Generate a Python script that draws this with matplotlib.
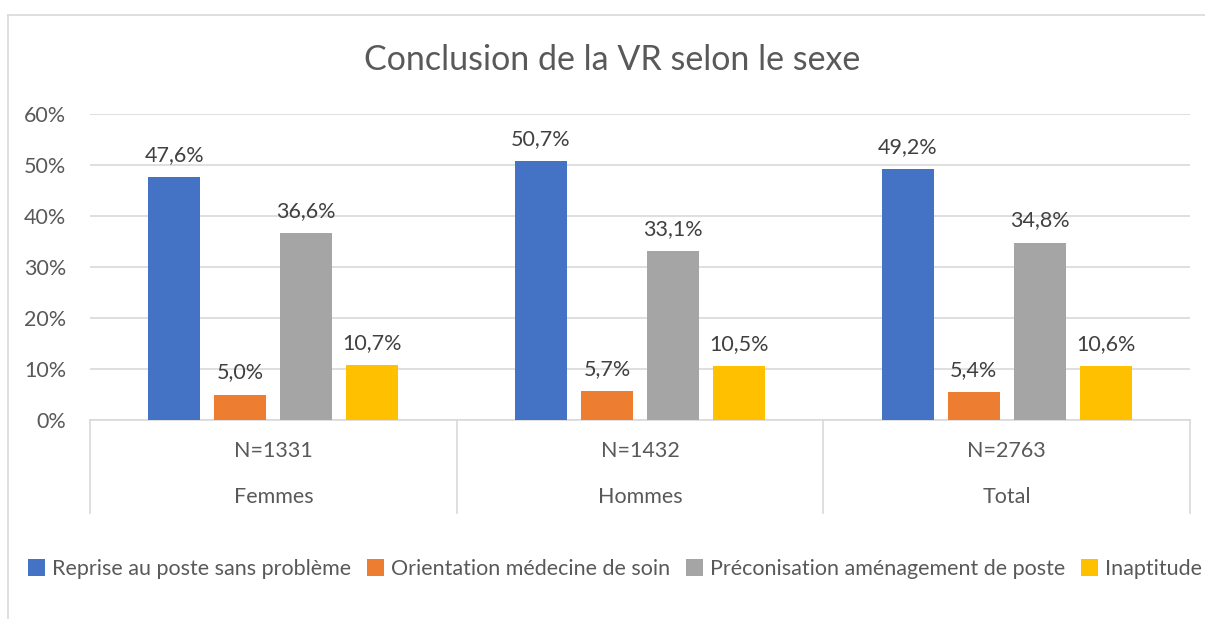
import matplotlib
matplotlib.use("Agg")
import matplotlib.pyplot as plt
import numpy as np
from matplotlib.patches import Patch
from matplotlib.lines import Line2D

plt.rcParams['font.family'] = ['Lato', 'DejaVu Sans']

groups = ["Femmes", "Hommes", "Total"]
ns = ["N=1331", "N=1432", "N=2763"]
series = ["Reprise au poste sans problème", "Orientation médecine de soin",
          "Préconisation aménagement de poste", "Inaptitude"]
reprise = [47.6, 50.7, 49.2]
orientation = [5.0, 5.7, 5.4]
preconisation = [36.6, 33.1, 34.8]
inaptitude = [10.7, 10.5, 10.6]
values = [reprise, orientation, preconisation, inaptitude]
colors = ["#4472C4", "#ED7D31", "#A5A5A5", "#FFC000"]
yticks = [0, 10, 20, 30, 40, 50, 60]

W, H = 1205, 619
fig = plt.figure(figsize=(W / 100, H / 100), dpi=100)
txt = "#595959"
grid = "#D9D9D9"
fs = 15.5

# chart border (top and left visible)
fig.add_artist(Line2D([8 / W, 8 / W], [0, 1 - 15 / H], transform=fig.transFigure, color=grid, lw=1.2))
fig.add_artist(Line2D([8 / W, 1], [1 - 15 / H, 1 - 15 / H], transform=fig.transFigure, color=grid, lw=1.2))

x0, x1 = 90, 1190
ytop, ybot = 114, 420
ax = fig.add_axes([x0 / W, 1 - ybot / H, (x1 - x0) / W, (ybot - ytop) / H])

x = np.arange(len(groups))
bw = 52 / 366.7
step = 66 / 366.7
for i, (vals, c, name) in enumerate(zip(values, colors, series)):
    pos = x + (i - 1.5) * step
    ax.bar(pos, vals, width=bw, color=c, label=name, zorder=3)
    for p, v in zip(pos, vals):
        ax.text(p, v + 2.4, f"{v:.1f}%".replace(".", ","), ha="center", va="bottom",
                fontsize=fs, color="#404040")

ax.set_xlim(-0.5, len(groups) - 0.5)
ax.set_ylim(0, 60)
ax.set_yticks(yticks)
ax.set_yticklabels([f"{t}%" for t in yticks], fontsize=fs, color=txt)
ax.yaxis.grid(True, color=grid, lw=1.2, zorder=0)
for s in ["top", "right", "left"]:
    ax.spines[s].set_visible(False)
ax.spines["bottom"].set_color(grid)
ax.spines["bottom"].set_linewidth(1.2)
ax.tick_params(axis="y", length=0, pad=17)
ax.tick_params(axis="x", length=0)
ax.set_xticks([])

# multi-level category axis
sep_bottom = 513
trans = fig.transFigure
for k in range(len(groups) + 1):
    xp = x0 + k * (x1 - x0) / len(groups)
    fig.add_artist(Line2D([xp / W, xp / W], [1 - ybot / H, 1 - sep_bottom / H],
                          transform=trans, color=grid, lw=1.2))
for k, (g, n) in enumerate(zip(groups, ns)):
    xc = x0 + (k + 0.5) * (x1 - x0) / len(groups)
    fig.text(xc / W, 1 - 451 / H, n, ha="center", va="center", fontsize=fs, color=txt)
    fig.text(xc / W, 1 - 497 / H, g, ha="center", va="center", fontsize=fs, color=txt)

fig.text(612 / W, 1 - 60 / H, "Conclusion de la VR selon le sexe", ha="center", va="center",
         fontsize=24.5, color=txt)

handles = [Patch(facecolor=c, edgecolor="none") for c in colors]
leg = fig.legend(handles, series, loc="center", bbox_to_anchor=(615 / W, 1 - 569 / H), ncol=4,
                 frameon=False, fontsize=fs, handlelength=0.8, handleheight=0.8,
                 handletextpad=0.3, columnspacing=0.75, labelcolor=txt,
                 borderaxespad=0, borderpad=0)

fig.savefig("out.png", dpi=100)
